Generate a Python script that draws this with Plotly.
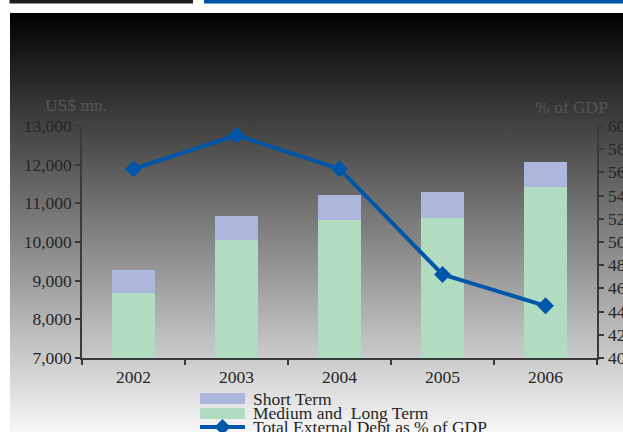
import base64
import plotly.graph_objects as go

# ---- data ----
years = ["2002", "2003", "2004", "2005", "2006"]
medium_long_term = [8670, 10050, 10560, 10610, 11410]   # US$ mn.
short_term = [600, 620, 650, 680, 650]                  # US$ mn.
debt_pct_gdp = [56.3, 59.2, 56.3, 47.2, 44.5]           # % of GDP

left_ticks = [7000, 8000, 9000, 10000, 11000, 12000, 13000]
right_ticks = list(range(40, 62, 2))

# ---- style ----
C_SHORT = "#adb6dc"
C_MED = "#b2dcc2"
C_LINE = "#0056a8"
C_AXIS = "#3a3a3a"
C_TEXT = "#262626"
FONT = "Liberation Serif"
FS = 17.5

W, H = 623, 432
ML, MR, MT, MB = 82, 26, 126, 74
PW, PH = W - ML - MR, H - MT - MB


def px_x(px):
    return (px - ML) / PW


def px_y(py):
    return (H - MB - py) / PH


fig = go.Figure()
fig.add_trace(go.Bar(x=years, y=medium_long_term, name="Medium and  Long Term",
                     marker=dict(color=C_MED, line=dict(width=0)), showlegend=False))
fig.add_trace(go.Bar(x=years, y=short_term, name="Short Term",
                     marker=dict(color=C_SHORT, line=dict(width=0)), showlegend=False))
fig.add_trace(go.Scatter(x=years, y=debt_pct_gdp, yaxis="y2", mode="lines+markers",
                         name="Total External Debt as % of GDP",
                         line=dict(color=C_LINE, width=4),
                         marker=dict(symbol="diamond", size=13, color=C_LINE),
                         showlegend=False))

# vertical black-to-white background
svg = (
    "<svg xmlns='http://www.w3.org/2000/svg' width='613' height='419' preserveAspectRatio='none'>"
    "<defs><linearGradient id='g' x1='0' y1='0' x2='0' y2='1'>"
    "<stop offset='0' stop-color='#000000'/><stop offset='1' stop-color='#f6f6f6'/>"
    "</linearGradient></defs><rect width='613' height='419' fill='url(#g)'/></svg>"
)
src = "data:image/svg+xml;base64," + base64.b64encode(svg.encode()).decode()
images = [dict(source=src, xref="paper", yref="paper", x=px_x(10), y=px_y(13),
               sizex=613 / PW, sizey=419 / PH, xanchor="left", yanchor="top",
               sizing="stretch", layer="below")]

shapes = [
    # header rules
    dict(type="rect", xref="paper", yref="paper", x0=px_x(9.5), x1=px_x(193),
         y0=px_y(3.5), y1=px_y(0), fillcolor="#231f20", line=dict(width=0)),
    dict(type="rect", xref="paper", yref="paper", x0=px_x(204), x1=px_x(623),
         y0=px_y(3.5), y1=px_y(0), fillcolor="#0056a8", line=dict(width=0)),
    # legend swatches
    dict(type="rect", xref="paper", yref="paper", x0=px_x(200), x1=px_x(245),
         y0=px_y(404), y1=px_y(393), fillcolor=C_SHORT, line=dict(width=0)),
    dict(type="rect", xref="paper", yref="paper", x0=px_x(200), x1=px_x(245),
         y0=px_y(419), y1=px_y(408), fillcolor=C_MED, line=dict(width=0)),
    dict(type="line", xref="paper", yref="paper", x0=px_x(200), x1=px_x(245),
         y0=px_y(427), y1=px_y(427), line=dict(color=C_LINE, width=4)),
]
cx, cy, r = 222.5, 427, 8
shapes.append(dict(
    type="path", xref="paper", yref="paper", fillcolor=C_LINE, line=dict(width=0),
    path=(f"M {px_x(cx - r)} {px_y(cy)} L {px_x(cx)} {px_y(cy - r)} "
          f"L {px_x(cx + r)} {px_y(cy)} L {px_x(cx)} {px_y(cy + r)} Z"),
))

legend_rows = [("Short Term", 399), ("Medium and  Long Term", 413),
               ("Total External Debt as % of GDP", 427)]
annotations = [
    dict(text=t, xref="paper", yref="paper", x=px_x(251), y=px_y(yy),
         xanchor="left", yanchor="middle", showarrow=False,
         font=dict(family=FONT, size=FS, color=C_TEXT))
    for t, yy in legend_rows
]
annotations += [
    dict(text="US$ mn.", xref="paper", yref="paper", x=px_x(76), y=px_y(105),
         xanchor="center", yanchor="middle", showarrow=False,
         font=dict(family=FONT, size=FS, color="#555555")),
    dict(text="% of GDP", xref="paper", yref="paper", x=px_x(571), y=px_y(107),
         xanchor="center", yanchor="middle", showarrow=False,
         font=dict(family=FONT, size=FS, color="#555555")),
]
# right-hand (% of GDP) tick labels, placed on the y2 scale
annotations += [
    dict(text=str(v), xref="paper", yref="y2", x=px_x(607), y=v,
         xanchor="left", yanchor="middle", showarrow=False, borderpad=0,
         font=dict(family=FONT, size=FS, color=C_TEXT))
    for v in right_ticks
]

tickfont = dict(family=FONT, size=FS, color=C_TEXT)
fig.update_layout(
    width=W, height=H, autosize=False,
    margin=dict(l=ML, r=MR, t=MT, b=MB, pad=0),
    paper_bgcolor="rgba(0,0,0,0)", plot_bgcolor="rgba(0,0,0,0)",
    barmode="stack", bargap=0.59,
    showlegend=False,
    images=images, shapes=shapes, annotations=annotations,
    xaxis=dict(type="category", showgrid=False, showline=True, linecolor=C_AXIS,
               linewidth=1.5, ticks="outside", tickson="boundaries", ticklen=5,
               tickcolor=C_AXIS, tickwidth=1.5, tickfont=tickfont,
               ticklabelstandoff=2),
    yaxis=dict(range=[7000, 13000], tickvals=left_ticks, tickformat=",d",
               showgrid=False, zeroline=False, showline=True, linecolor=C_AXIS,
               linewidth=1.5, ticks="outside", ticklen=5, tickcolor=C_AXIS,
               tickwidth=1.5, tickfont=tickfont),
    yaxis2=dict(range=[40, 60], tickvals=right_ticks, overlaying="y", side="right",
                anchor="x", showgrid=False, zeroline=False, showline=True,
                linecolor=C_AXIS, linewidth=1.5, ticks="outside", ticklen=5,
                tickcolor=C_AXIS, tickwidth=1.5, showticklabels=False),
    yaxis3=dict(range=[40, 60], tickvals=right_ticks, overlaying="y", side="right",
                anchor="x", showgrid=False, zeroline=False, showline=False,
                ticks="inside", ticklen=5, tickcolor=C_AXIS, tickwidth=1.5,
                showticklabels=False),
)

fig.write_html("out.html", config={"responsive": False, "displayModeBar": False})
